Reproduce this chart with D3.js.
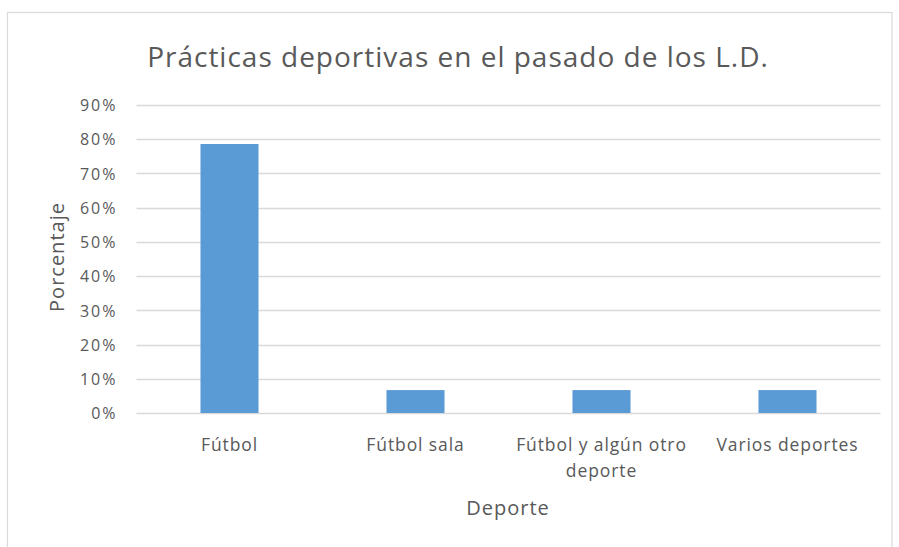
<!DOCTYPE html>
<html>
<head>
<meta charset="utf-8">
<script src="https://cdn.jsdelivr.net/npm/d3@7"></script>
<style>
  html, body { margin: 0; padding: 0; background: #fff; }
  svg text { font-family: "Open Sans", "Noto Sans", sans-serif; fill: #595959; }
</style>
</head>
<body>
<svg id="chart" width="899" height="547"></svg>
<script>
// Sports practised in the past (share of respondents)
const categories = ["Fútbol", "Fútbol sala", "Fútbol y algún otro deporte", "Varios deportes"];
const shares = [0.786, 0.067, 0.067, 0.067];
const yTicks = [0, 0.1, 0.2, 0.3, 0.4, 0.5, 0.6, 0.7, 0.8, 0.9];

const svg = d3.select("#chart");
const plot = { left: 136.5, right: 880.5, top: 105, bottom: 413 };

// chart frame
svg.append("rect")
  .attr("x", 7.5).attr("y", 12.5)
  .attr("width", 884.5).attr("height", 540)
  .attr("fill", "#fff").attr("stroke", "#d9d9d9").attr("stroke-width", 1.2);

const x = d3.scaleBand()
  .domain(categories)
  .range([plot.left, plot.right])
  .paddingInner(0.688)
  .paddingOuter(0.344);

const y = d3.scaleLinear()
  .domain([0, 0.9])
  .range([plot.bottom, plot.top]);

// horizontal gridlines
svg.append("g")
  .selectAll("line")
  .data(yTicks)
  .join("line")
  .attr("x1", plot.left).attr("x2", plot.right)
  .attr("y1", d => Math.round(y(d)) + 0.5)
  .attr("y2", d => Math.round(y(d)) + 0.5)
  .attr("stroke", "#d9d9d9").attr("stroke-width", 1.3);

// y axis labels
const yAxis = d3.axisLeft(y)
  .tickValues(yTicks)
  .tickFormat(d3.format(".0%"))
  .tickSize(0)
  .tickPadding(0);
const gy = svg.append("g")
  .attr("transform", `translate(${plot.left - 19},0)`)
  .call(yAxis);
gy.select(".domain").remove();
gy.selectAll("text")
  .attr("font-size", 16)
  .attr("letter-spacing", 2)
  .attr("dy", "0.36em")
  .style("fill", "#595959");

// bars
svg.append("g")
  .selectAll("rect")
  .data(categories.map((c, i) => ({ c, v: shares[i] })))
  .join("rect")
  .attr("x", d => x(d.c))
  .attr("width", x.bandwidth())
  .attr("y", d => y(d.v))
  .attr("height", d => y(0) - y(d.v))
  .attr("fill", "#5b9bd5");

// category labels, wrapped onto two lines where long
const catLines = {
  "Fútbol": ["Fútbol"],
  "Fútbol sala": ["Fútbol sala"],
  "Fútbol y algún otro deporte": ["Fútbol y algún otro", "deporte"],
  "Varios deportes": ["Varios deportes"]
};
const gx = svg.append("g");
categories.forEach(c => {
  const cx = x(c) + x.bandwidth() / 2;
  const t = gx.append("text")
    .attr("x", cx)
    .attr("y", 451)
    .attr("text-anchor", "middle")
    .attr("font-size", 17.5)
    .attr("letter-spacing", 0.9);
  catLines[c].forEach((line, i) => {
    t.append("tspan")
      .attr("x", cx)
      .attr("dy", i === 0 ? 0 : 26)
      .text(line);
  });
});

// title
svg.append("text")
  .attr("x", 458).attr("y", 67)
  .attr("text-anchor", "middle")
  .attr("font-size", 28)
  .attr("letter-spacing", 1)
  .text("Prácticas deportivas en el pasado de los L.D.");

// axis titles
svg.append("text")
  .attr("transform", "translate(64,257) rotate(-90)")
  .attr("text-anchor", "middle")
  .attr("font-size", 20)
  .attr("letter-spacing", 1)
  .text("Porcentaje");

svg.append("text")
  .attr("x", 508).attr("y", 515)
  .attr("text-anchor", "middle")
  .attr("font-size", 20)
  .attr("letter-spacing", 1)
  .text("Deporte");
</script>
</body>
</html>
